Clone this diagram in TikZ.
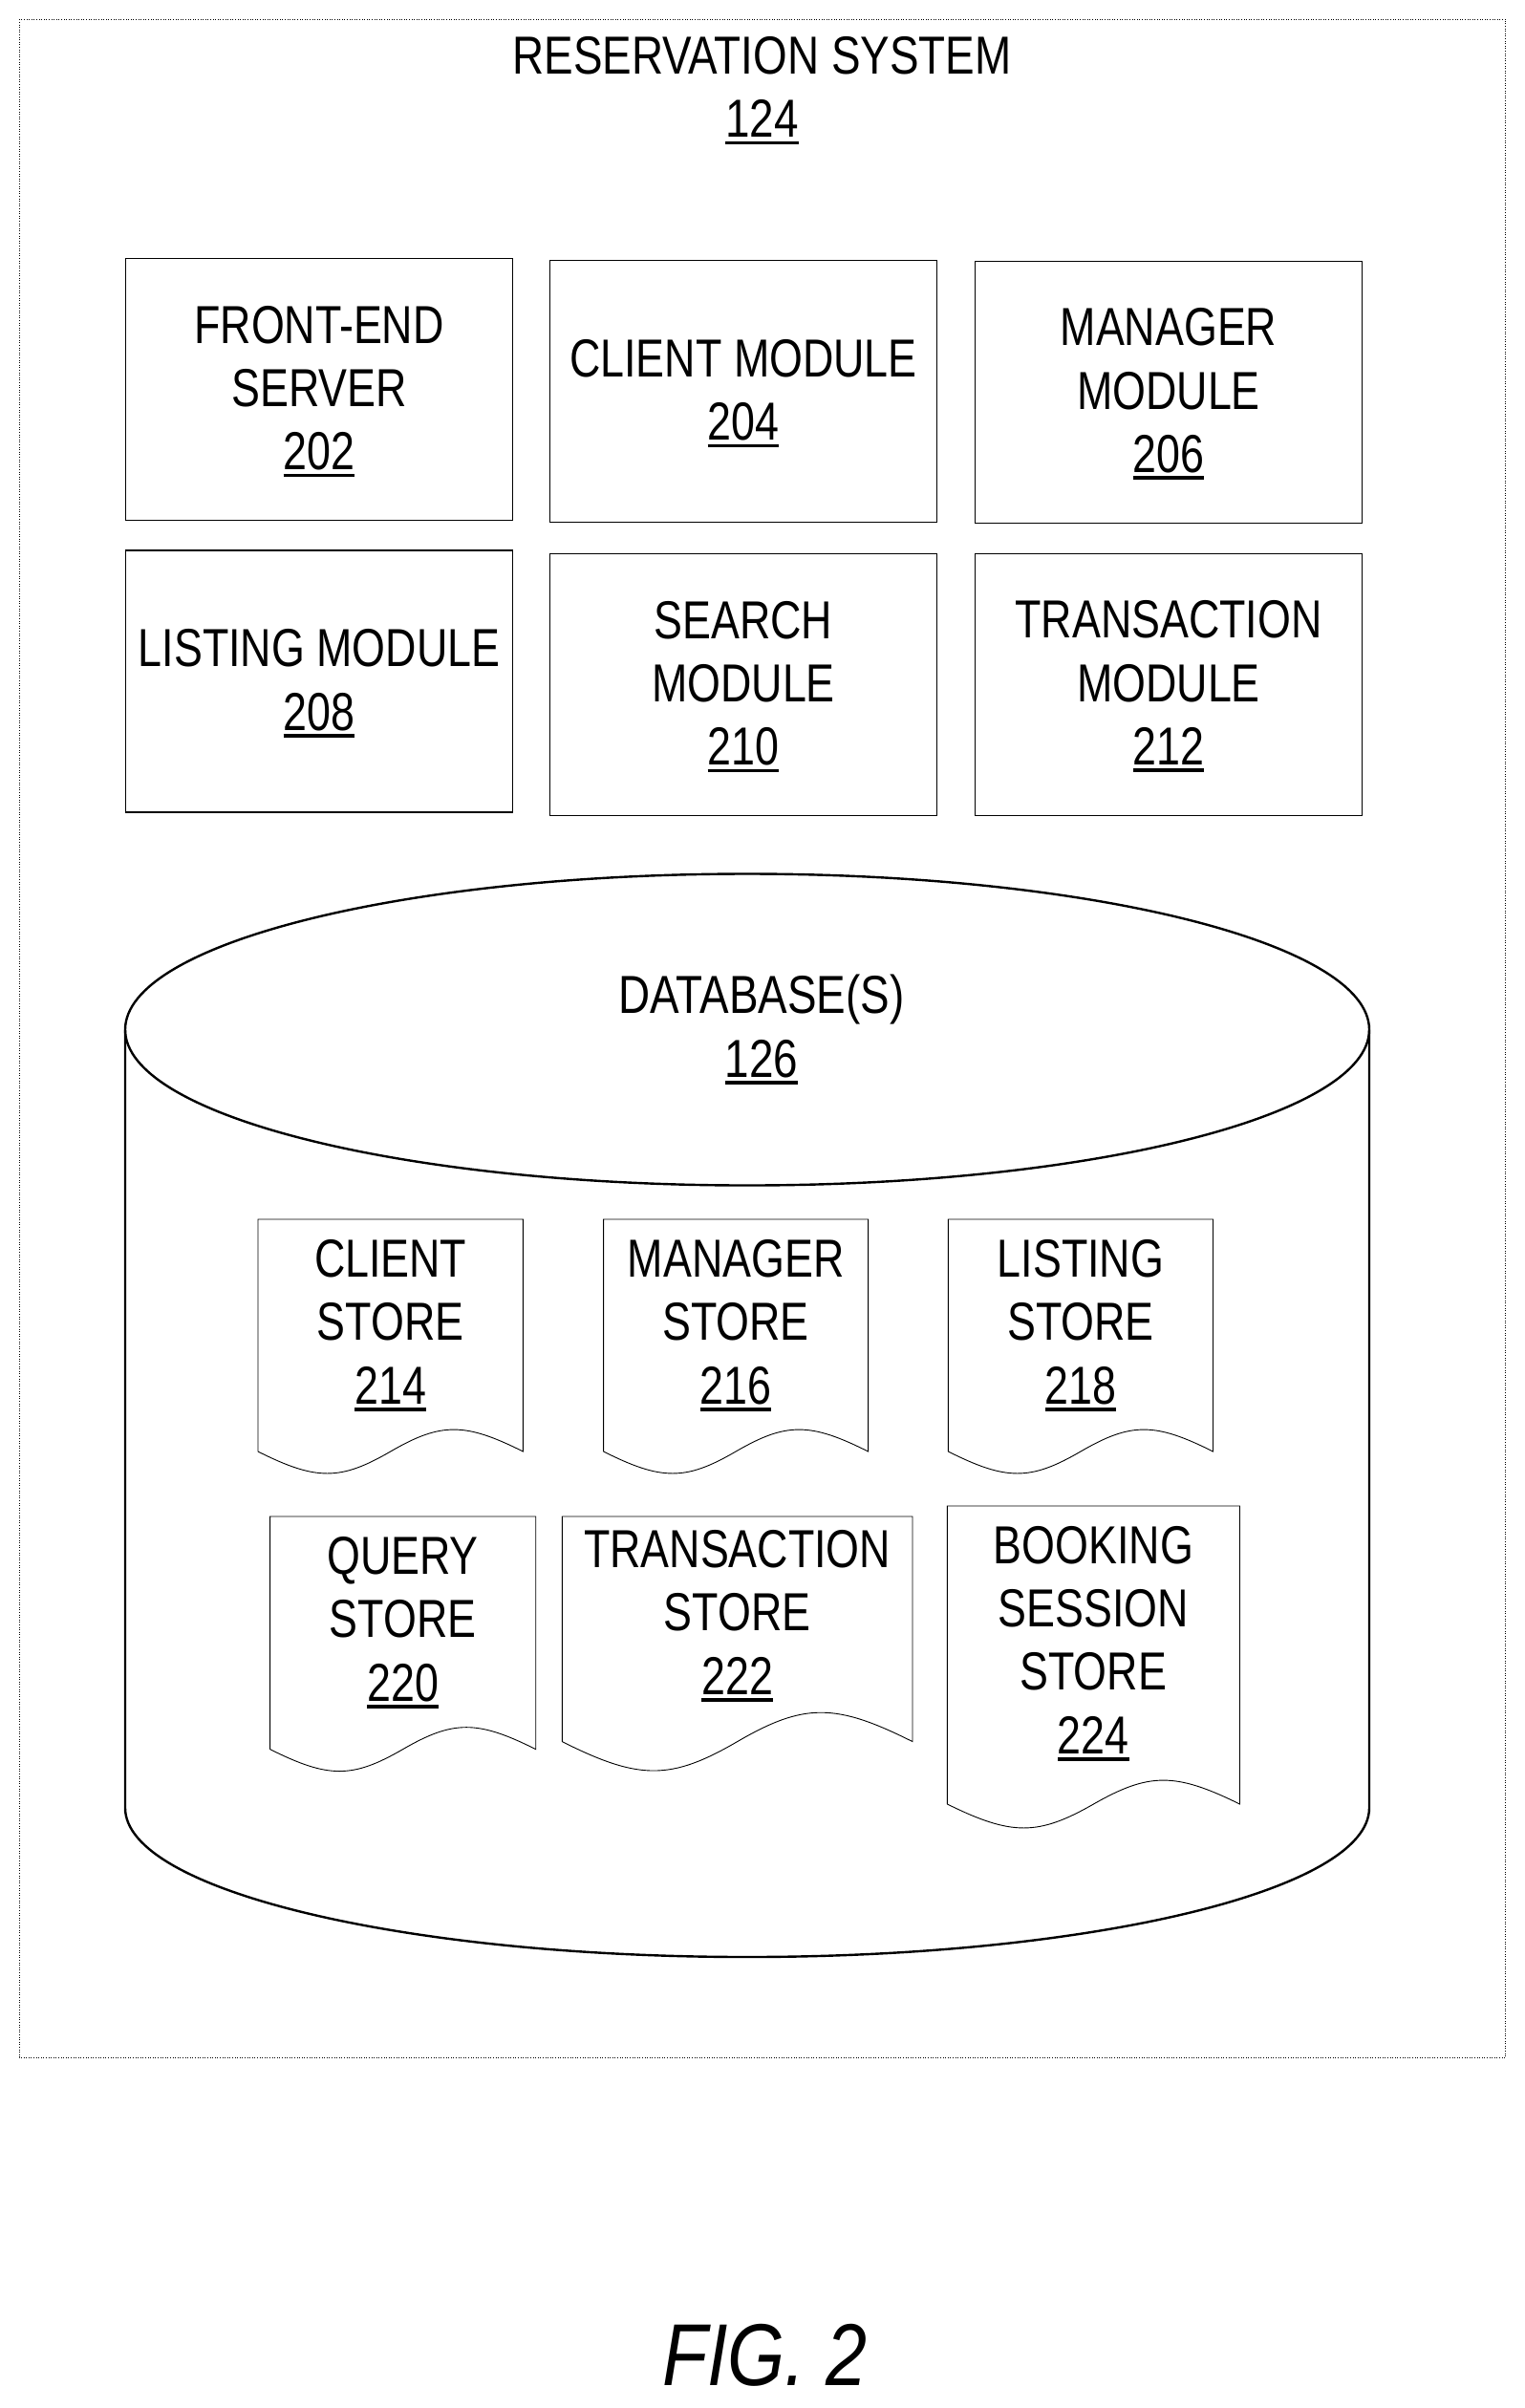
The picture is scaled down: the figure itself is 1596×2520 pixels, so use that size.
\documentclass[tikz,border=0pt]{standalone}
\usepackage{fontspec}
\setmainfont{Liberation Sans}[FakeStretch=0.8]
\newfontfamily\headfont{Liberation Sans}[FakeStretch=0.818]
\newfontfamily\figfont{Liberation Sans}[FakeStretch=0.84]
\usetikzlibrary{shapes.geometric,positioning}
% reference number with its rule under it
\newcommand{\refnum}[1]{\setbox0=\hbox{#1}\rlap{\rule[-7.5pt]{\wd0}{3.5pt}}\box0}

\begin{document}
\begin{tikzpicture}[x=1pt,y=-1pt]
	\tikzstyle{label}=[font=\fontsize{56}{66.2}\selectfont, align=center, inner sep=0pt, outer sep=0pt]
	\tikzstyle{heading}=[label, font=\headfont\fontsize{56}{66.2}\selectfont]
	\tikzstyle{module}=[label, rectangle, draw=black, line width=1.1pt, minimum width=405pt, minimum height=274pt, text depth=3pt]
	\tikzstyle{store}=[line width=0.9pt, draw=black]
	\tikzstyle{drum}=[line width=2.4pt, draw=black]
	\useasboundingbox (0,0) rectangle (1596,2520);
	\fill[white] (0,0) rectangle (1596,2520);
	\draw[line width=0.9pt, dash pattern=on 1pt off 1.6pt] (20.4,20.3) rectangle (1575.7,2153.3);
	\node[heading] (system) at (797.5,95) {RESERVATION SYSTEM\\\refnum{124}};

	\node[module]                              (front)       at (334,407.6) {FRONT-END\\SERVER\\\refnum{202}};
	\node[module] [right=39pt of front, yshift=-2pt]   (client)   {CLIENT MODULE\\\refnum{204}};
	\node[module] [right=40pt of client, yshift=-0.5pt] (manager)  {MANAGER\\MODULE\\\refnum{206}};
	\node[module] [below=31.4pt of front]      (listing)     {LISTING MODULE\\\refnum{208}};
	\node[module] [below=33pt of client]       (search)      {SEARCH\\MODULE\\\refnum{210}};
	\node[module] [below=32pt of manager]      (transaction) {TRANSACTION\\MODULE\\\refnum{212}};

	\node[ellipse, drum, inner sep=0pt, outer sep=0pt, minimum width=1302pt, minimum height=326pt] (dbtop) at (782,1077.5) {};
	\draw[drum] (dbtop.west) -- (131,1892) arc[start angle=180, end angle=360, x radius=651pt, y radius=156pt] -- (dbtop.east);
	\node[heading] (dbname) at (797,1077.5) {DATABASE(S)\\\refnum{126}};

	% left / right / top / end of side / dip of the wave
	\foreach \lft/\rgt/\tp/\bt/\dip in {270/547.4/1276/1519/23, 631.6/908.6/1276/1519/23, 992.4/1269.5/1276/1519/23,
		282.6/560.7/1587/1830.6/23, 588.3/955/1587/1822.6/30.5, 991.4/1297.5/1576/1888/25} {
		\pgfmathsetmacro{\wid}{\rgt-\lft}
		\pgfmathsetmacro{\mid}{\lft+0.5*\wid}
		\pgfmathsetmacro{\deep}{\bt+1.33*\dip}
		\pgfmathsetmacro{\high}{\bt-1.33*\dip}
		\draw[store] (\lft,\bt) -- (\lft,\tp) -- (\rgt,\tp) -- (\rgt,\bt)
			.. controls (\lft+0.78*\wid,\high) and (\lft+0.69*\wid,\high) .. (\mid,\bt)
			.. controls (\lft+0.31*\wid,\deep) and (\lft+0.22*\wid,\deep) .. (\lft,\bt);
	}
	\node[label] (clientstore)  at (408.7,1387) {CLIENT\\STORE\\\refnum{214}};
	\node[label] (managerstore) at (770.1,1387) {MANAGER\\STORE\\\refnum{216}};
	\node[label] (listingstore) at (1131,1387)  {LISTING\\STORE\\\refnum{218}};
	\node[label] (querystore)   at (421.6,1698) {QUERY\\STORE\\\refnum{220}};
	\node[label] (transstore)   at (771.6,1691) {TRANSACTION\\STORE\\\refnum{222}};
	\node[label] (bookingstore) at (1144.3,1720) {BOOKING\\SESSION\\STORE\\\refnum{224}};

	\node[font=\figfont\itshape\fontsize{92}{92}\selectfont, inner sep=0pt] (figname) at (800.5,2465) {FIG. 2};
\end{tikzpicture}
\end{document}
